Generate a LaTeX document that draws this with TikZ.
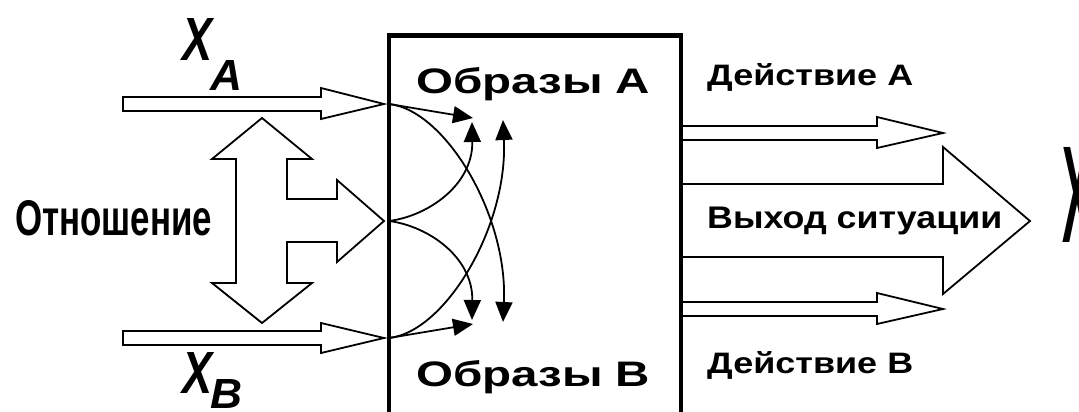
\documentclass[tikz,border=0pt]{standalone}
\usepackage{fontspec}
\setmainfont{Liberation Sans}
\usepackage{graphicx}
\usetikzlibrary{arrows.meta}
\begin{document}
\begin{tikzpicture}[x=1pt,y=-1pt,
  outl/.style={draw=black,line width=1.8pt,fill=white,line join=miter},
  flow/.style={line width=1.8pt,-{Triangle[length=20pt,width=17pt]}},
  lbl/.style={inner sep=0pt,anchor=base west,font=\bfseries},
  boxline/.style={line width=4.5pt,line cap=rect}]
\useasboundingbox (0,0) rectangle (1079,412);
\clip (0,0) rectangle (1079,412);
% input arrow X_A
\draw[outl] (123,97) -- (321,97) -- (321,88) -- (384,104) -- (321,119) -- (321,111) -- (123,111) -- cycle;
% input arrow X_B
\draw[outl] (123,331) -- (321,331) -- (321,323) -- (384,338) -- (321,353) -- (321,345) -- (123,345) -- cycle;
% relation arrow
\draw[outl] (262,118) -- (312,159) -- (287,159) -- (287,199) -- (337,199) -- (337,180) -- (384,221)
  -- (337,262) -- (337,242) -- (287,242) -- (287,283) -- (312,283) -- (262,323) -- (212,283)
  -- (236,283) -- (236,159) -- (212,159) -- cycle;
% output arrows
\draw[outl] (681,126) -- (877,126) -- (877,117) -- (943,133) -- (877,148) -- (877,140) -- (681,140) -- cycle;
\draw[outl] (681,302) -- (877,302) -- (877,293) -- (943,309) -- (877,324) -- (877,316) -- (681,316) -- cycle;
\draw[outl] (681,184) -- (943,184) -- (943,147) -- (1030,221) -- (943,294) -- (943,257) -- (681,257) -- cycle;
% box
\draw[boxline] (389,440) -- (389,35.5) -- (681,35.5) -- (681,440);
% entry points and targets
\coordinate (inA) at (389,104);
\coordinate (inR) at (389,221);
\coordinate (inB) at (389,338);
\coordinate (tA1) at (473,118);
\coordinate (tM1) at (472,122);
\coordinate (tB2) at (503,120);
\coordinate (tB1) at (473,324);
\coordinate (tM2) at (472,320);
\coordinate (tA2) at (503,322);
\draw[flow] (inA) -- (tA1);
\draw[flow] (inA) .. controls (445,110) and (508,215) .. (tA2);
\draw[flow] (inR) .. controls (428,216) and (473,185) .. (tM1);
\draw[flow] (inR) .. controls (428,226) and (473,257) .. (tM2);
\draw[flow] (inB) -- (tB1);
\draw[flow] (inB) .. controls (445,332) and (508,227) .. (tB2);
% labels
\node[lbl] (imA) at (416,93) {\resizebox{234pt}{26pt}{\bfseries Образы А}};
\node[lbl] (imB) at (416,386) {\resizebox{234pt}{26pt}{\bfseries Образы В}};
\node[lbl] (actA) at (707,85) {\resizebox{206pt}{22pt}{\bfseries Действие А}};
\node[lbl] (actB) at (707,373) {\resizebox{206pt}{22pt}{\bfseries Действие В}};
\node[lbl] (out) at (707,228) {\resizebox{295pt}{21.5pt}{\bfseries Выход ситуации}};
\node[lbl] (rel) at (15,235) {\resizebox{197pt}{35pt}{\bfseries Отношение}};
\node[lbl] (xa) at (182,60) {\resizebox{30pt}{42pt}{\bfseries\itshape X}\hspace{-2pt}\raisebox{-30pt}{\resizebox{32pt}{30pt}{\bfseries\itshape A}}};
\node[lbl] (xb) at (182,393) {\resizebox{30pt}{41pt}{\bfseries\itshape X}\hspace{-2pt}\raisebox{-15pt}{\resizebox{32pt}{29pt}{\bfseries\itshape B}}};
\node[lbl] (xout) at (1062,242) {\resizebox{30pt}{95pt}{\bfseries X}};
\end{tikzpicture}
\end{document}
